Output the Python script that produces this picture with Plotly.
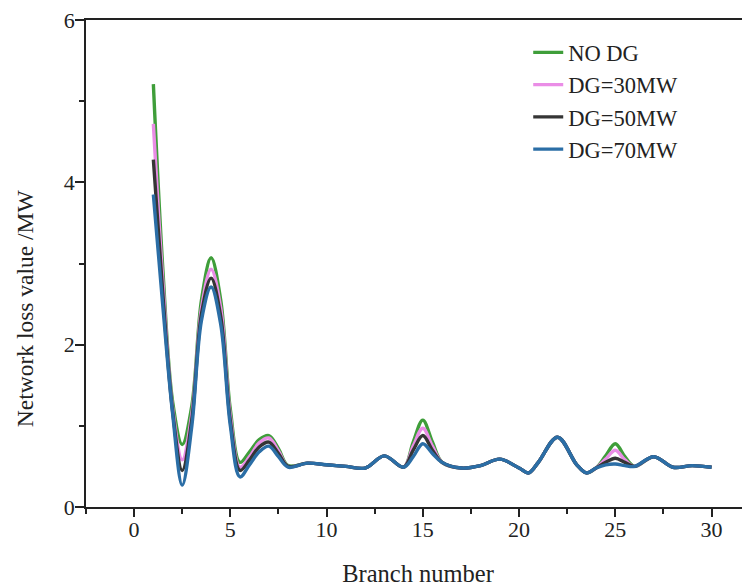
import plotly.graph_objects as go

# Branch positions at which the curves were read
branch = [1, 1.5, 2, 2.5, 3, 3.5, 4, 4.5, 5, 5.5, 6, 6.5, 7, 7.5, 8, 9, 10, 11, 12, 13,
          14, 14.5, 15, 15.5, 16, 17, 18, 19, 20, 20.5, 21, 22, 23, 23.5, 24, 24.5, 25,
          25.5, 26, 27, 28, 29, 30]

no_dg = [5.21, 2.90, 1.30, 0.77, 1.25, 2.55, 3.07, 2.55, 1.20, 0.55, 0.68, 0.83, 0.88, 0.72, 0.51,
         0.54, 0.52, 0.50, 0.48, 0.63, 0.49, 0.80, 1.07, 0.80, 0.55, 0.48, 0.51, 0.59, 0.48,
         0.42, 0.55, 0.86, 0.52, 0.42, 0.48, 0.63, 0.78, 0.62, 0.50, 0.62, 0.49, 0.51, 0.49]

dg30 = [4.72, 2.75, 1.22, 0.58, 1.15, 2.45, 2.93, 2.45, 1.12, 0.49, 0.62, 0.79, 0.85, 0.69, 0.50,
        0.54, 0.52, 0.50, 0.48, 0.63, 0.49, 0.75, 0.97, 0.75, 0.55, 0.48, 0.51, 0.59, 0.48,
        0.42, 0.55, 0.86, 0.52, 0.42, 0.48, 0.59, 0.70, 0.58, 0.50, 0.62, 0.49, 0.51, 0.49]

dg50 = [4.28, 2.60, 1.18, 0.45, 1.08, 2.38, 2.82, 2.35, 1.06, 0.45, 0.58, 0.74, 0.80, 0.66, 0.50,
        0.54, 0.52, 0.50, 0.48, 0.63, 0.49, 0.70, 0.88, 0.70, 0.55, 0.48, 0.51, 0.59, 0.48,
        0.42, 0.55, 0.86, 0.52, 0.42, 0.48, 0.55, 0.60, 0.55, 0.50, 0.62, 0.49, 0.51, 0.49]

dg70 = [3.85, 2.45, 1.15, 0.27, 1.00, 2.30, 2.71, 2.25, 1.00, 0.37, 0.52, 0.68, 0.75, 0.62, 0.49,
        0.54, 0.52, 0.50, 0.48, 0.63, 0.49, 0.62, 0.78, 0.66, 0.55, 0.48, 0.51, 0.59, 0.48,
        0.42, 0.55, 0.86, 0.52, 0.42, 0.48, 0.52, 0.53, 0.51, 0.50, 0.62, 0.49, 0.51, 0.49]

series_names = ["NO DG", "DG=30MW", "DG=50MW", "DG=70MW"]
series_colors = ["#3f9e3a", "#ea8de6", "#353535", "#2b6ea6"]

x_ticks = [0, 5, 10, 15, 20, 25, 30]
y_ticks = [0, 2, 4, 6]

FONT = "Liberation Serif, Times New Roman, serif"

fig = go.Figure()
for name, ys, col in zip(series_names, [no_dg, dg30, dg50, dg70], series_colors):
    fig.add_trace(go.Scatter(x=branch, y=ys, name=name, mode="lines",
                             line=dict(color=col, width=3.4, shape="spline", smoothing=1.0)))

# page body has an 8px margin, so the figure is 8px smaller and margins shifted
fig.update_layout(
    width=742, height=579,
    margin=dict(l=78, r=0, t=9, b=80),
    paper_bgcolor="white", plot_bgcolor="white",
    font=dict(family=FONT, size=22, color="#222"),
    showlegend=True,
    legend=dict(x=0.666, y=0.977, xanchor="left", yanchor="top",
                bgcolor="rgba(0,0,0,0)", font=dict(size=22.5, family=FONT),
                tracegroupgap=0),
    annotations=[dict(text="Network loss value /MW", textangle=-90,
                      xref="paper", yref="paper", x=-0.092, y=0.408,
                      xanchor="center", yanchor="middle", showarrow=False,
                      font=dict(size=23.5, family=FONT, color="#222"))],
)
fig.update_xaxes(
    range=[-2.5, 32], tickvals=x_ticks, ticks="outside", ticklen=8, tickwidth=1.5,
    tickcolor="#222", showline=True, linecolor="#222", linewidth=1.5, mirror=True,
    showgrid=False, zeroline=False,
    minor=dict(ticks="outside", ticklen=5, tickwidth=1.5, tickcolor="#222", dtick=2.5, tick0=0),
    title=dict(text="Branch number", font=dict(size=24.5), standoff=24),
    tickfont=dict(size=22), ticklabeloverflow="allow", ticklabelstandoff=-6,
)
fig.update_yaxes(
    range=[0, 6], tickvals=y_ticks, ticks="outside", ticklen=9, tickwidth=1.5,
    tickcolor="#222", showline=True, linecolor="#222", linewidth=1.5, mirror=False,
    showgrid=False, zeroline=False,
    minor=dict(ticks="outside", ticklen=5, tickwidth=1.5, tickcolor="#222", dtick=1, tick0=0),
    tickfont=dict(size=22), ticklabeloverflow="allow", ticklabelstandoff=-4,
)

fig.write_html("out.html")
